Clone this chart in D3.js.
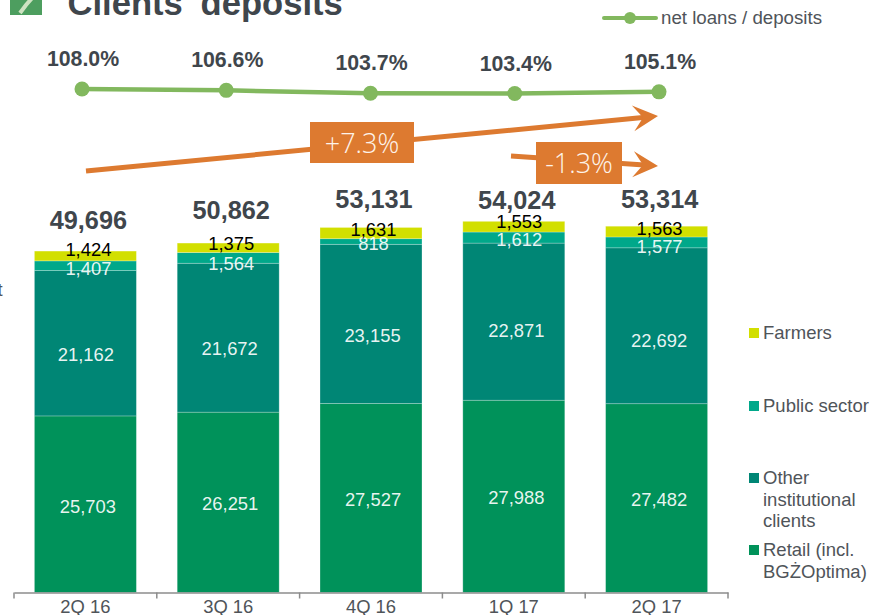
<!DOCTYPE html>
<html>
<head>
<meta charset="utf-8">
<script src="https://cdnjs.cloudflare.com/ajax/libs/d3/7.8.5/d3.min.js"></script>
<style>
html, body { margin: 0; padding: 0; background: #fff; }
svg { display: block; }
text { font-family: "Liberation Sans", Arial, sans-serif; }
</style>
</head>
<body>
<svg id="chart" width="870" height="615"></svg>
<script>
// Chart data
var quarters = ["2Q 16", "3Q 16", "4Q 16", "1Q 17", "2Q 17"];
var retail = [25703, 26251, 27527, 27988, 27482];
var otherInst = [21162, 21672, 23155, 22871, 22692];
var publicSector = [1407, 1564, 818, 1612, 1577];
var farmers = [1424, 1375, 1631, 1553, 1563];
var totals = [49696, 50862, 53131, 54024, 53314];
var loanRatio = [108.0, 106.6, 103.7, 103.4, 105.1];

var seriesNames = ["Retail", "Other", "Public", "Farmers"];
var seriesValues = [retail, otherInst, publicSector, farmers];
var seriesColors = ["#00925a", "#008675", "#00a88a", "#d2df00"];

// the labels in the original are hand placed, so nudge them per bar
var labelShift = [
    [3, 2, 2, 2, 2],
    [12, 11, 12, 9, 15],
    [3, 6, 2, 2, 5],
    [-6, -4, -3, -5, -3]
];
var labelShiftX = [
    [2.5, 2, 2, 2.5, 2.5],
    [0.5, 1.5, 1.5, 2.5, 2.5],
    [3, 3, 2.5, 5.5, 3],
    [3, 3, 2.5, 5.5, 3]
];
var totalShift = [31, 33, 28, 21.5, 27];

var svg = d3.select("#chart");
var baseY = 592.5;

var xScale = d3.scaleBand()
    .domain(quarters)
    .range([14, 728])
    .paddingInner(0.286)
    .paddingOuter(0.143);

var yScale = d3.scaleLinear()
    .domain([0, 60000])
    .range([baseY, baseY - 412.2]);

// the line does not sit on the bar centres
var lineX = d3.scalePoint()
    .domain(quarters)
    .range([82, 659]);

var lineY = d3.scaleLinear()
    .domain([103.4, 108.0])
    .range([93.5, 89]);

var fmt = d3.format(",");
var pctFmt = function (d) { return d.toFixed(1) + "%"; };

var stacked = d3.stack().keys(d3.range(4)).value(function (d, k) {
    return seriesValues[k][d];
})(d3.range(quarters.length));

// Bars
var groups = svg.append("g").selectAll("g")
    .data(stacked)
    .enter()
    .append("g")
    .attr("fill", function (d, i) { return seriesColors[i]; });

groups.selectAll("rect")
    .data(function (d) { return d; })
    .enter()
    .append("rect")
    .attr("x", function (d, i) { return xScale(quarters[i]); })
    .attr("width", xScale.bandwidth())
    .attr("y", function (d) { return yScale(d[1]); })
    .attr("height", function (d) { return yScale(d[0]) - yScale(d[1]); })
    .attr("stroke", "#fff")
    .attr("stroke-opacity", 0.3)
    .attr("stroke-width", 0.8);

// Segment labels
stacked.forEach(function (layer, k) {
    svg.append("g").selectAll("text")
        .data(layer)
        .enter()
        .append("text")
        .attr("x", function (d, i) {
            return xScale(quarters[i]) + xScale.bandwidth() / 2 + labelShiftX[k][i];
        })
        .attr("y", function (d, i) {
            return (yScale(d[0]) + yScale(d[1])) / 2 + labelShift[k][i] + 6;
        })
        .attr("text-anchor", "middle")
        .attr("font-size", 18.4)
        .attr("fill", k == 3 ? "#000" : "#fff")
        .attr("fill-opacity", k == 3 ? 1 : 0.92)
        .text(function (d, i) { return fmt(seriesValues[k][i]); });
});

// Totals
svg.append("g").selectAll("text")
    .data(totals)
    .enter()
    .append("text")
    .attr("x", function (d, i) { return xScale(quarters[i]) + xScale.bandwidth() / 2 + 3; })
    .attr("y", function (d, i) { return yScale(d) - totalShift[i] + 9; })
    .attr("text-anchor", "middle")
    .attr("font-size", 25.3)
    .attr("font-weight", "bold")
    .attr("fill", "#3f464c")
    .text(fmt);

// X axis
var xAxis = d3.axisBottom(xScale).tickSize(0).tickPadding(7.5);
var xLine = svg.append("g")
    .attr("transform", "translate(0," + baseY + ")")
    .call(xAxis);
xLine.select(".domain").attr("stroke", "#8c8c8c").attr("stroke-width", 1.5);
xLine.selectAll("text")
    .attr("font-size", 18.4)
    .attr("fill", "#4f5459")
    .style("font-family", "'Liberation Sans', Arial, sans-serif");

// tick marks sit between the bars
svg.append("g").selectAll("line")
    .data(d3.range(quarters.length + 1))
    .enter()
    .append("line")
    .attr("x1", function (i) { return 14 + i * xScale.step(); })
    .attr("x2", function (i) { return 14 + i * xScale.step(); })
    .attr("y1", baseY)
    .attr("y2", baseY + 6)
    .attr("stroke", "#8c8c8c")
    .attr("stroke-width", 1.5);

// Loans / deposits line
var line = d3.line()
    .x(function (d, i) { return lineX(quarters[i]); })
    .y(function (d) { return lineY(d); });

svg.append("path")
    .datum(loanRatio)
    .attr("d", line)
    .attr("fill", "none")
    .attr("stroke", "#82b85e")
    .attr("stroke-width", 4.5);

svg.append("g").selectAll("circle")
    .data(loanRatio)
    .enter()
    .append("circle")
    .attr("cx", function (d, i) { return lineX(quarters[i]); })
    .attr("cy", function (d) { return lineY(d); })
    .attr("r", 7.5)
    .attr("fill", "#82b85e");

svg.append("g").selectAll("text")
    .data(loanRatio)
    .enter()
    .append("text")
    .attr("x", function (d, i) { return lineX(quarters[i]) + 1; })
    .attr("y", function (d) { return lineY(d) - 23; })
    .attr("text-anchor", "middle")
    .attr("font-size", 21.3)
    .attr("font-weight", "bold")
    .attr("fill", "#3f464c")
    .text(pctFmt);

// Growth arrows
var orange = "#dd7a30";
function drawArrow(x1, y1, x2, y2, label, bx, by, bw, bh) {
    var angle = Math.atan2(y2 - y1, x2 - x1) * 180 / Math.PI;
    svg.append("line")
        .attr("x1", x1).attr("y1", y1)
        .attr("x2", x2 - 10).attr("y2", y2 - 10 * Math.sin(angle * Math.PI / 180))
        .attr("stroke", orange)
        .attr("stroke-width", 5);
    svg.append("path")
        .attr("d", "M0,0L-25,-13L-15,0L-25,13Z")
        .attr("transform", "translate(" + x2 + "," + y2 + ") rotate(" + angle + ")")
        .attr("fill", orange);
    svg.append("rect")
        .attr("x", bx).attr("y", by)
        .attr("width", bw).attr("height", bh)
        .attr("fill", orange);
    svg.append("text")
        .attr("x", bx + bw / 2)
        .attr("y", by + bh / 2 + 10)
        .attr("text-anchor", "middle")
        .attr("font-size", 27)
        .style("font-family", "'Open Sans', sans-serif")
        .attr("font-weight", 300)
        .attr("fill", "#fdf3ea")
        .text(label);
}
drawArrow(86, 171, 658, 116, "+7.3%", 310, 122, 104, 41);
drawArrow(511, 156, 658, 166, "-1.3%", 536, 142, 86, 42);

// Title
svg.append("rect")
    .attr("x", 10).attr("y", -5)
    .attr("width", 32).attr("height", 20)
    .attr("fill", "#4d9e5f");
svg.append("path")
    .attr("d", "M20,13L26,5L33,-3")
    .attr("fill", "none")
    .attr("stroke", "#cfe3c2")
    .attr("stroke-width", 4);
svg.append("text")
    .attr("x", 67.5).attr("y", 14.5)
    .attr("font-size", 34.6)
    .attr("font-weight", "bold")
    .attr("fill", "#3f464c")
    .text("Clients' deposits");

// Line legend
svg.append("line")
    .attr("x1", 604).attr("x2", 656)
    .attr("y1", 18).attr("y2", 18)
    .attr("stroke", "#82b85e")
    .attr("stroke-width", 4)
    .attr("stroke-linecap", "round");
svg.append("circle")
    .attr("cx", 630).attr("cy", 18).attr("r", 6)
    .attr("fill", "#82b85e");
svg.append("text")
    .attr("x", 661).attr("y", 24)
    .attr("font-size", 18.7)
    .attr("fill", "#4f5459")
    .text("net loans / deposits");

// Bar legend
var legendRows = [
    { color: seriesColors[3], y: 328, lines: ["Farmers"] },
    { color: seriesColors[2], y: 401, lines: ["Public sector"] },
    { color: seriesColors[1], y: 473, lines: ["Other", "institutional", "clients"] },
    { color: seriesColors[0], y: 545, lines: ["Retail (incl.", "BGŻOptima)"] }
];
legendRows.forEach(function (row) {
    svg.append("rect")
        .attr("x", 749).attr("y", row.y)
        .attr("width", 10).attr("height", 10)
        .attr("fill", row.color);
    row.lines.forEach(function (txt, i) {
        svg.append("text")
            .attr("x", 763)
            .attr("y", row.y + 11 + i * 21.5)
            .attr("font-size", 18.5)
            .attr("fill", "#4f5459")
            .text(txt);
    });
});

// stray letter cut off at the left edge
svg.append("text")
    .attr("x", -2.5).attr("y", 296)
    .attr("font-size", 18.4)
    .attr("fill", "#4f5459")
    .text("t");
</script>
</body>
</html>
